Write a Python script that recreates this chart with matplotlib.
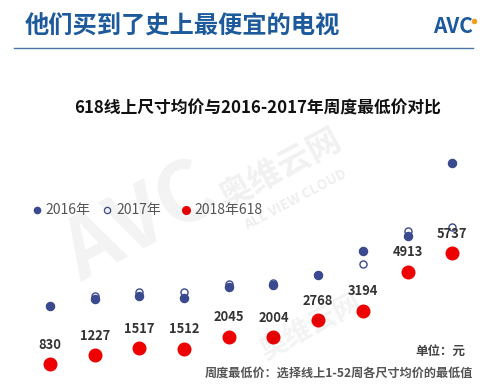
import matplotlib
matplotlib.use("Agg")
import matplotlib.pyplot as plt

plt.rcParams['font.family'] = ['Noto Sans CJK SC', 'DejaVu Sans']

# sizes (inch), one point per size class
sizes = ['32', '40', '43', '49', '50', '55', '58', '60', '65', '75']
price_2016 = [3407, 3703, 3849, 3748, 4234, 4322, 4765, 5826, 6489, 9729]
price_2017 = [3407, 3849, 4013, 4026, 4353, 4411, 4765, 5238, 6710, 6900]
price_2018 = [830, 1227, 1517, 1512, 2045, 2004, 2768, 3194, 4913, 5737]

legend_labels = ['2016年', '2017年', '2018年618']

NAVY = '#3b4a8f'
RED = '#ee0000'

fig = plt.figure(figsize=(5.0, 3.84), dpi=100)

# data area: whole figure, scaled so categories/values land where the reference has them
ax = fig.add_axes([0, 0, 1, 1])
ax.set_axis_off()
ax.set_xlim(-1.12, 10.07)
ax.set_ylim(-53, 16923)

x = list(range(len(sizes)))
ax.scatter(x, price_2017, s=26, facecolors='white', edgecolors=NAVY,
           linewidths=1.0, zorder=2)
ax.scatter(x, price_2016, s=34, color=NAVY, zorder=3)
ax.scatter(x, price_2018, s=82, color=RED, zorder=3)
for xi, v in zip(x, price_2018):
    ax.annotate(str(v), (xi, v), xytext=(0, 9), textcoords='offset points',
                ha='center', va='bottom', fontsize=9.3, fontweight='bold',
                color='#333333')

# watermark
fig.text(0.28, 0.42, 'AVC', fontsize=60, fontweight='bold', color='#000000',
         alpha=0.05, rotation=28, ha='center', va='center', style='italic')
fig.text(0.56, 0.56, '奥维云网', fontsize=24, fontweight='bold', color='#000000',
         alpha=0.06, rotation=28, ha='center', va='center')
fig.text(0.59, 0.48, 'ALL VIEW CLOUD', fontsize=10, fontweight='bold',
         color='#000000', alpha=0.07, rotation=28, ha='center', va='center')
fig.text(0.62, 0.15, '奥维云网', fontsize=20, fontweight='bold', color='#000000',
         alpha=0.05, rotation=28, ha='center', va='center')

# header
fig.text(0.05, 0.93, '他们买到了史上最便宜的电视', fontsize=17.5, fontweight='heavy',
         color='#1c5a9c', ha='left', va='center')
fig.add_artist(plt.Line2D([0.028, 0.946], [0.875, 0.875], color='#4a76a8',
                          linewidth=1.0))
fig.text(0.945, 0.93, 'AVC', fontsize=15, fontweight='heavy', color='#1c5a9c',
         ha='right', va='center')
fig.add_artist(plt.Line2D([0.948], [0.945], marker='o', markersize=3,
                          color='#f0a020', linestyle='none'))

# subtitle
fig.text(0.516, 0.718, '618线上尺寸均价与2016-2017年周度最低价对比', fontsize=12.1,
         fontweight='bold', color='#111111', ha='center', va='center')

# legend drawn by hand, like the reference
leg_y = 1 - 210 / 384
fig.add_artist(plt.Line2D([37 / 500], [leg_y], marker='o', markersize=4.5,
                          color=NAVY, linestyle='none'))
fig.add_artist(plt.Line2D([107 / 500], [leg_y], marker='o', markersize=4.5,
                          markerfacecolor='white', markeredgecolor=NAVY,
                          markeredgewidth=0.9, linestyle='none'))
fig.add_artist(plt.Line2D([186 / 500], [leg_y], marker='o', markersize=5.5,
                          color=RED, linestyle='none'))
for lx, lab in zip([45, 116, 194], legend_labels):
    fig.text(lx / 500, leg_y, lab, fontsize=10, color='#555555',
             ha='left', va='center')

# notes
fig.text(0.93, 1 - 351 / 384, '单位：元', fontsize=9, fontweight='bold',
         color='#444444', ha='right', va='center')
fig.text(0.946, 1 - 373 / 384, '周度最低价：选择线上1-52周各尺寸均价的最低值',
         fontsize=8.7, fontweight='bold', color='#555555', ha='right',
         va='center')

fig.savefig('out.png', dpi=100)
